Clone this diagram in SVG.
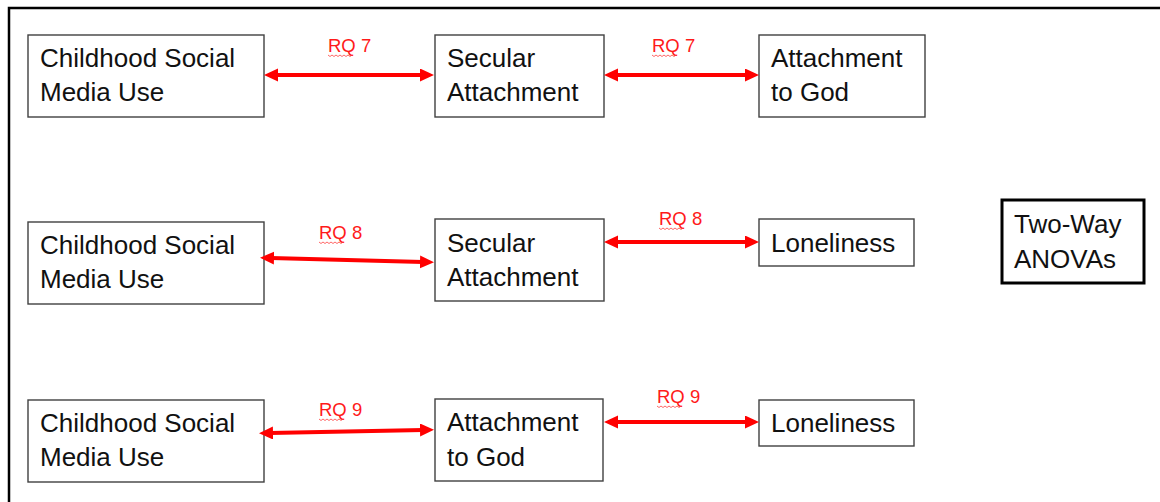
<svg xmlns="http://www.w3.org/2000/svg" width="1160" height="502" viewBox="0 0 1160 502">
<style>
.box{fill:#fff;stroke:#404040;stroke-width:1.4}
.bold{fill:#fff;stroke:#000;stroke-width:3}
.t{font-family:"Liberation Sans",Arial,sans-serif;font-size:26px;fill:#111}
.rq{font-family:"Liberation Sans",Arial,sans-serif;font-size:18.5px;fill:#ff1a1a}
.arr{stroke:#ff0000;stroke-width:4;fill:none;marker-start:url(#ah);marker-end:url(#ah)}
.sq{stroke:#ff4040;stroke-width:0.8;fill:none}
.frame{stroke:#000;stroke-width:2.5;fill:none}
</style>
<defs>
<marker id="ah" markerUnits="userSpaceOnUse" markerWidth="16" markerHeight="14" refX="3" refY="6.5" orient="auto-start-reverse">
<path d="M0,0 L14,6.5 L0,13 z" fill="#ff0000"/>
</marker>
</defs>
<rect width="1160" height="502" fill="#fff"/>
<path class="frame" d="M9,502 V8 H1160"/>

<g id="n1"><rect class="box" x="28" y="35" width="236" height="82"/><text class="t" x="40" y="67">Childhood Social</text><text class="t" x="40" y="101">Media Use</text></g>
<g id="n2"><rect class="box" x="435" y="35" width="169" height="82"/><text class="t" x="447" y="67">Secular</text><text class="t" x="447" y="101">Attachment</text></g>
<g id="n3"><rect class="box" x="759" y="35" width="166" height="82"/><text class="t" x="771" y="67">Attachment</text><text class="t" x="771" y="101">to God</text></g>

<g id="n4"><rect class="box" x="28" y="222" width="236" height="82"/><text class="t" x="40" y="254">Childhood Social</text><text class="t" x="40" y="288">Media Use</text></g>
<g id="n5"><rect class="box" x="435" y="219" width="169" height="82"/><text class="t" x="447" y="252">Secular</text><text class="t" x="447" y="286">Attachment</text></g>
<g id="n6"><rect class="box" x="759" y="219" width="155" height="47"/><text class="t" x="771" y="252">Loneliness</text></g>
<g id="n7"><rect class="bold" x="1002" y="200" width="142" height="83"/><text class="t" x="1014" y="233">Two-Way</text><text class="t" x="1014" y="268">ANOVAs</text></g>

<g id="n8"><rect class="box" x="28" y="400" width="236" height="82"/><text class="t" x="40" y="432">Childhood Social</text><text class="t" x="40" y="466">Media Use</text></g>
<g id="n9"><rect class="box" x="435" y="399" width="168" height="82"/><text class="t" x="447" y="431">Attachment</text><text class="t" x="447" y="466">to God</text></g>
<g id="n10"><rect class="box" x="759" y="400" width="155" height="46"/><text class="t" x="771" y="432">Loneliness</text></g>

<g id="connectors">
<line class="arr" x1="275" y1="75" x2="423" y2="75"/>
<line class="arr" x1="615" y1="75" x2="748" y2="75"/>
<line class="arr" x1="271" y1="258" x2="423" y2="262"/>
<line class="arr" x1="615" y1="242" x2="748" y2="242"/>
<line class="arr" x1="270" y1="433" x2="423" y2="430"/>
<line class="arr" x1="615" y1="422" x2="748" y2="422"/>

<text class="rq" x="328" y="52">RQ 7</text>
<path class="sq" d="M328,55 l2,1.5 l2,-1.5 l2,1.5 l2,-1.5 l2,1.5 l2,-1.5 l2,1.5 l2,-1.5 l2,1.5 l2,-1.5 l2,1.5 l2,-1.5"/>
<text class="rq" x="652" y="52">RQ 7</text>
<path class="sq" d="M652,55 l2,1.5 l2,-1.5 l2,1.5 l2,-1.5 l2,1.5 l2,-1.5 l2,1.5 l2,-1.5 l2,1.5 l2,-1.5 l2,1.5 l2,-1.5"/>
<text class="rq" x="319" y="239">RQ 8</text>
<path class="sq" d="M319,242 l2,1.5 l2,-1.5 l2,1.5 l2,-1.5 l2,1.5 l2,-1.5 l2,1.5 l2,-1.5 l2,1.5 l2,-1.5 l2,1.5 l2,-1.5"/>
<text class="rq" x="659" y="225">RQ 8</text>
<path class="sq" d="M659,228 l2,1.5 l2,-1.5 l2,1.5 l2,-1.5 l2,1.5 l2,-1.5 l2,1.5 l2,-1.5 l2,1.5 l2,-1.5 l2,1.5 l2,-1.5"/>
<text class="rq" x="319" y="416">RQ 9</text>
<path class="sq" d="M319,419 l2,1.5 l2,-1.5 l2,1.5 l2,-1.5 l2,1.5 l2,-1.5 l2,1.5 l2,-1.5 l2,1.5 l2,-1.5 l2,1.5 l2,-1.5"/>
<text class="rq" x="657" y="403">RQ 9</text>
<path class="sq" d="M657,406 l2,1.5 l2,-1.5 l2,1.5 l2,-1.5 l2,1.5 l2,-1.5 l2,1.5 l2,-1.5 l2,1.5 l2,-1.5 l2,1.5 l2,-1.5"/>
</g>
</svg>
